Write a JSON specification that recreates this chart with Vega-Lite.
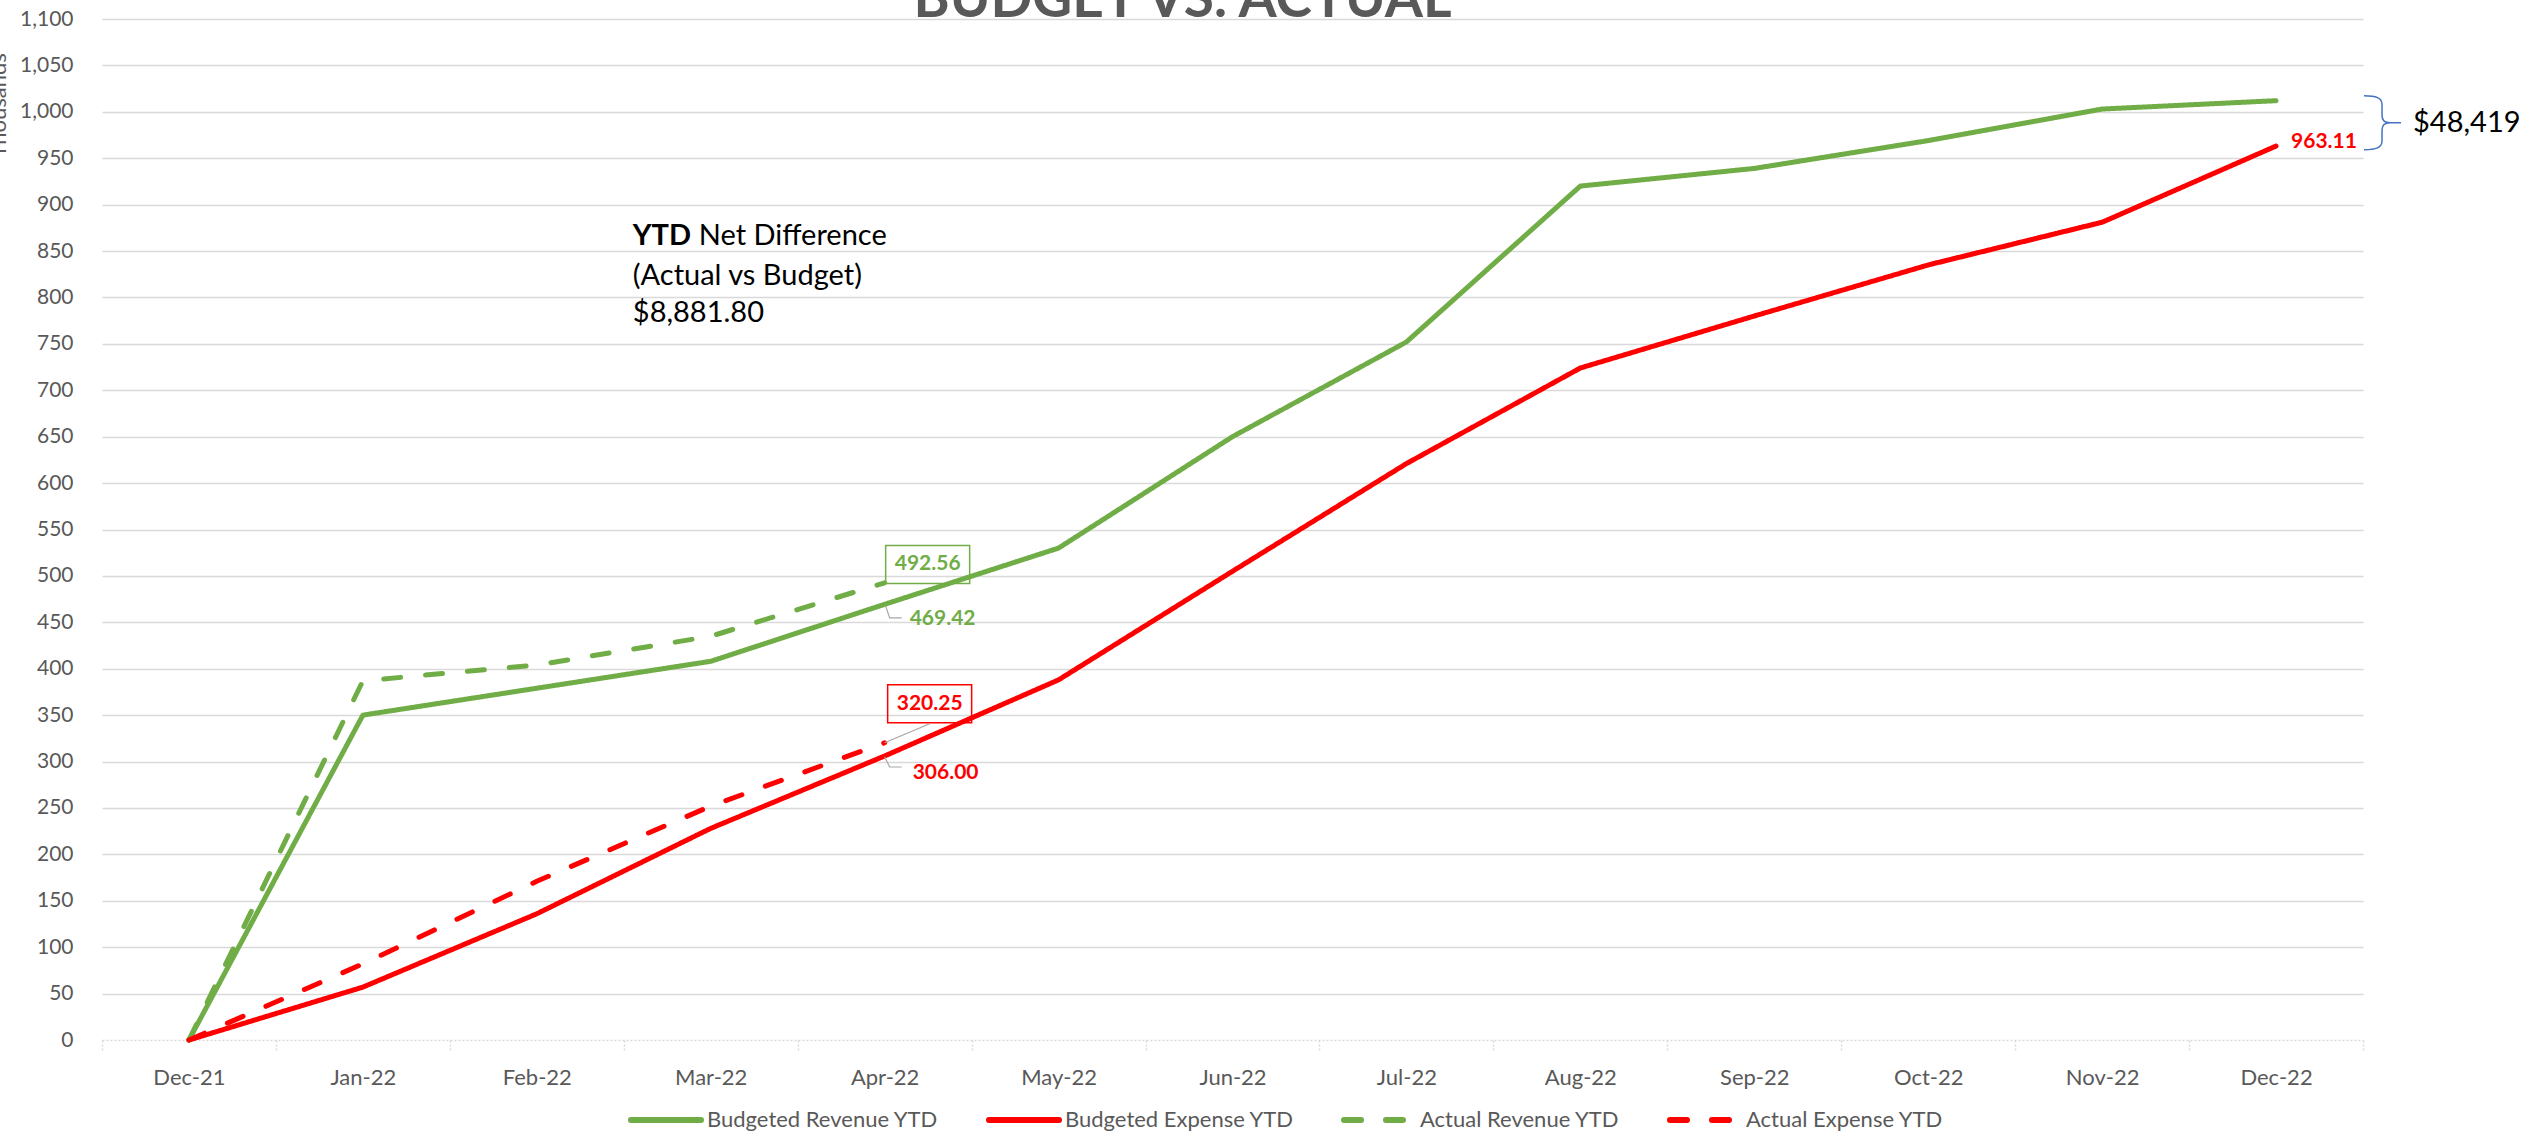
{
  "$schema": "https://vega.github.io/schema/vega-lite/v6.json",
  "width": 2261,
  "height": 1021,
  "autosize": {"type": "none"},
  "padding": {"left": 102, "top": 19, "right": 171, "bottom": 99},
  "background": "white",
  "config": {"view": {"stroke": null}, "font": "Lato"},
  "title": {"text": "BUDGET VS. ACTUAL", "fontSize": 55, "fontWeight": "bold", "color": "#595959", "font": "Lato", "anchor": "middle", "dx": -50, "offset": -64, "baseline": "alphabetic"},
  "datasets": {
    "lines": [
      {"month": "Dec-21", "series": "Budgeted Revenue YTD", "value": 0},
      {"month": "Jan-22", "series": "Budgeted Revenue YTD", "value": 350},
      {"month": "Feb-22", "series": "Budgeted Revenue YTD", "value": 379},
      {"month": "Mar-22", "series": "Budgeted Revenue YTD", "value": 408},
      {"month": "Apr-22", "series": "Budgeted Revenue YTD", "value": 469.42},
      {"month": "May-22", "series": "Budgeted Revenue YTD", "value": 530},
      {"month": "Jun-22", "series": "Budgeted Revenue YTD", "value": 650},
      {"month": "Jul-22", "series": "Budgeted Revenue YTD", "value": 752},
      {"month": "Aug-22", "series": "Budgeted Revenue YTD", "value": 920},
      {"month": "Sep-22", "series": "Budgeted Revenue YTD", "value": 939},
      {"month": "Oct-22", "series": "Budgeted Revenue YTD", "value": 969},
      {"month": "Nov-22", "series": "Budgeted Revenue YTD", "value": 1003},
      {"month": "Dec-22", "series": "Budgeted Revenue YTD", "value": 1012},
      {"month": "Dec-21", "series": "Budgeted Expense YTD", "value": 0},
      {"month": "Jan-22", "series": "Budgeted Expense YTD", "value": 57},
      {"month": "Feb-22", "series": "Budgeted Expense YTD", "value": 136},
      {"month": "Mar-22", "series": "Budgeted Expense YTD", "value": 228},
      {"month": "Apr-22", "series": "Budgeted Expense YTD", "value": 306.0},
      {"month": "May-22", "series": "Budgeted Expense YTD", "value": 388},
      {"month": "Jun-22", "series": "Budgeted Expense YTD", "value": 505},
      {"month": "Jul-22", "series": "Budgeted Expense YTD", "value": 621},
      {"month": "Aug-22", "series": "Budgeted Expense YTD", "value": 724},
      {"month": "Sep-22", "series": "Budgeted Expense YTD", "value": 780},
      {"month": "Oct-22", "series": "Budgeted Expense YTD", "value": 835},
      {"month": "Nov-22", "series": "Budgeted Expense YTD", "value": 881},
      {"month": "Dec-22", "series": "Budgeted Expense YTD", "value": 963.11},
      {"month": "Dec-21", "series": "Actual Revenue YTD", "value": 0},
      {"month": "Jan-22", "series": "Actual Revenue YTD", "value": 387},
      {"month": "Feb-22", "series": "Actual Revenue YTD", "value": 404},
      {"month": "Mar-22", "series": "Actual Revenue YTD", "value": 435},
      {"month": "Apr-22", "series": "Actual Revenue YTD", "value": 492.56},
      {"month": "Dec-21", "series": "Actual Expense YTD", "value": 0},
      {"month": "Jan-22", "series": "Actual Expense YTD", "value": 82},
      {"month": "Feb-22", "series": "Actual Expense YTD", "value": 171},
      {"month": "Mar-22", "series": "Actual Expense YTD", "value": 252},
      {"month": "Apr-22", "series": "Actual Expense YTD", "value": 320.25}
    ]
  },
  "layer": [
    {
      "data": {"name": "lines"},
      "mark": {"type": "line", "strokeWidth": 5, "strokeCap": "round", "strokeJoin": "round"},
      "encoding": {
        "x": {
          "field": "month", "type": "nominal", "bandPosition": 0.5,
          "scale": {"type": "band", "paddingInner": 0, "paddingOuter": 0, "domain": ["Dec-21","Jan-22","Feb-22","Mar-22","Apr-22","May-22","Jun-22","Jul-22","Aug-22","Sep-22","Oct-22","Nov-22","Dec-22"]},
          "sort": null,
          "axis": {"title": null, "labelAngle": 0, "labelFontSize": 22, "labelFont": "Lato", "labelColor": "#595959", "labelPadding": 17, "tickBand": "extent", "ticks": true, "tickSize": 10, "tickColor": "#d9d9d9", "tickDash": [2, 2], "tickWidth": 1.5, "domainColor": "#d9d9d9", "domainDash": [2, 2], "domainWidth": 1.5, "grid": false}
        },
        "y": {
          "field": "value", "type": "quantitative",
          "scale": {"domain": [0, 1100], "nice": false},
          "axis": {"values": [0,50,100,150,200,250,300,350,400,450,500,550,600,650,700,750,800,850,900,950,1000,1050,1100], "format": ",d", "labelFontSize": 21, "labelFont": "Lato", "labelColor": "#595959", "labelPadding": 29, "ticks": false, "domain": false, "grid": true, "gridColor": "#d9d9d9", "gridWidth": 1.5, "gridOpacity": {"condition": {"test": "datum.value === 0", "value": 0}, "value": 1}, "title": "Thousands", "titleFontSize": 22, "titleFont": "Lato", "titleFontWeight": "normal", "titleColor": "#595959", "titleAngle": 270, "titleX": -97, "titleY": 138, "titleAlign": "left", "titleBaseline": "alphabetic"}
        },
        "color": {
          "field": "series", "type": "nominal",
          "scale": {"domain": ["Budgeted Revenue YTD", "Budgeted Expense YTD", "Actual Revenue YTD", "Actual Expense YTD"], "range": ["#70AD47", "#FF0000", "#70AD47", "#FF0000"]},
          "legend": {"orient": "none", "legendX": 526, "legendY": 1063, "direction": "horizontal", "columns": 4, "title": null, "symbolType": "stroke", "symbolSize": 4900, "symbolStrokeWidth": 6, "labelFontSize": 22, "labelFont": "Lato", "labelColor": "#595959", "labelLimit": 600, "columnPadding": 38, "labelOffset": 3, "padding": 0, "encode": {"symbols": {"update": {"strokeCap": {"value": "round"}}}}}
        },
        "strokeDash": {
          "field": "series", "type": "nominal",
          "scale": {"domain": ["Budgeted Revenue YTD", "Budgeted Expense YTD", "Actual Revenue YTD", "Actual Expense YTD"], "range": [[1, 0], [1, 0], [17, 25], [17, 25]]},
          "legend": {"orient": "none", "legendX": 526, "legendY": 1063, "direction": "horizontal", "columns": 4, "title": null, "symbolType": "stroke", "symbolSize": 4900, "symbolStrokeWidth": 6, "labelFontSize": 22, "labelFont": "Lato", "labelColor": "#595959", "labelLimit": 600, "columnPadding": 38, "labelOffset": 3, "padding": 0, "encode": {"symbols": {"update": {"strokeCap": {"value": "round"}}}}}
        }
      }
    },
    {
      "data": {"values": [{"month": "Apr-22", "value": 492.56, "label": "492.56"}]},
      "mark": {"type": "point", "shape": "M-1,-0.452H1V0.452H-1Z", "size": 7056, "filled": false, "stroke": "#70AD47", "strokeWidth": 1.5, "opacity": 1, "xOffset": 43, "yOffset": -18.4},
      "encoding": {"x": {"field": "month", "type": "nominal", "bandPosition": 0.5}, "y": {"field": "value", "type": "quantitative"}}
    },
    {
      "data": {"values": [{"month": "Apr-22", "value": 492.56, "label": "492.56"}]},
      "mark": {"type": "text", "dx": 43, "dy": -18.4, "align": "center", "baseline": "middle", "fontSize": 21, "fontWeight": "bold", "color": "#70AD47"},
      "encoding": {"x": {"field": "month", "type": "nominal", "bandPosition": 0.5}, "y": {"field": "value", "type": "quantitative"}, "text": {"field": "label"}}
    },
    {
      "data": {"values": [{"month": "Apr-22", "value": 469.42, "label": "469.42"}]},
      "mark": {"type": "text", "dx": 25, "dy": 14.6, "align": "left", "baseline": "middle", "fontSize": 21, "fontWeight": "bold", "color": "#70AD47"},
      "encoding": {"x": {"field": "month", "type": "nominal", "bandPosition": 0.5}, "y": {"field": "value", "type": "quantitative"}, "text": {"field": "label"}}
    },
    {
      "data": {"values": [{"month": "Apr-22", "value": 469.42}]},
      "mark": {"type": "point", "shape": "M0.05,0.08L0.25,0.68L0.85,0.68", "size": 1600, "filled": false, "stroke": "#A6A6A6", "strokeWidth": 1.2, "opacity": 1},
      "encoding": {"x": {"field": "month", "type": "nominal", "bandPosition": 0.5}, "y": {"field": "value", "type": "quantitative"}}
    },
    {
      "data": {"values": [{"month": "Apr-22", "value": 320.25}]},
      "mark": {"type": "point", "shape": "M-1,-0.452H1V0.452H-1Z", "size": 7056, "filled": false, "stroke": "#FF0000", "strokeWidth": 1.5, "opacity": 1, "xOffset": 45, "yOffset": -39},
      "encoding": {"x": {"field": "month", "type": "nominal", "bandPosition": 0.5}, "y": {"field": "value", "type": "quantitative"}}
    },
    {
      "data": {"values": [{"month": "Apr-22", "value": 320.25}]},
      "mark": {"type": "point", "shape": "M0,0L0.9,-0.38", "size": 10000, "filled": false, "stroke": "#A6A6A6", "strokeWidth": 1.2, "opacity": 1},
      "encoding": {"x": {"field": "month", "type": "nominal", "bandPosition": 0.5}, "y": {"field": "value", "type": "quantitative"}}
    },
    {
      "data": {"values": [{"month": "Apr-22", "value": 320.25, "label": "320.25"}]},
      "mark": {"type": "text", "dx": 45, "dy": -39, "align": "center", "baseline": "middle", "fontSize": 21, "fontWeight": "bold", "color": "#FF0000"},
      "encoding": {"x": {"field": "month", "type": "nominal", "bandPosition": 0.5}, "y": {"field": "value", "type": "quantitative"}, "text": {"field": "label"}}
    },
    {
      "data": {"values": [{"month": "Apr-22", "value": 306.0, "label": "306.00"}]},
      "mark": {"type": "text", "dx": 28, "dy": 17, "align": "left", "baseline": "middle", "fontSize": 21, "fontWeight": "bold", "color": "#FF0000"},
      "encoding": {"x": {"field": "month", "type": "nominal", "bandPosition": 0.5}, "y": {"field": "value", "type": "quantitative"}, "text": {"field": "label"}}
    },
    {
      "data": {"values": [{"month": "Apr-22", "value": 306.0}]},
      "mark": {"type": "point", "shape": "M0,0.04L0.25,0.55L0.85,0.55", "size": 1600, "filled": false, "stroke": "#A6A6A6", "strokeWidth": 1.2, "opacity": 1},
      "encoding": {"x": {"field": "month", "type": "nominal", "bandPosition": 0.5}, "y": {"field": "value", "type": "quantitative"}}
    },
    {
      "data": {"values": [{"month": "Dec-22", "value": 963.11, "label": "963.11"}]},
      "mark": {"type": "text", "dx": 15, "dy": -4, "align": "left", "baseline": "middle", "fontSize": 21, "fontWeight": "bold", "color": "#FF0000"},
      "encoding": {"x": {"field": "month", "type": "nominal", "bandPosition": 0.5}, "y": {"field": "value", "type": "quantitative"}, "text": {"field": "label"}}
    },
    {
      "data": {"values": [{"month": "Dec-22", "value": 988.2}]},
      "mark": {"type": "point", "shape": "M-0.6,-0.9C-0.2,-0.9 0,-0.833 0,-0.6L0,-0.233C0,-0.067 0.1,0 0.267,0L0.633,0M0.267,0C0.1,0 0,0.067 0,0.233L0,0.6C0,0.833 -0.2,0.9 -0.6,0.9", "size": 3600, "filled": false, "stroke": "#4472C4", "strokeWidth": 1.5, "opacity": 1, "xOffset": 106},
      "encoding": {"x": {"field": "month", "type": "nominal", "bandPosition": 0.5}, "y": {"field": "value", "type": "quantitative"}}
    },
    {
      "data": {"values": [{"month": "Dec-22", "value": 988.2, "label": "$48,419"}]},
      "mark": {"type": "text", "dx": 137, "align": "left", "baseline": "middle", "fontSize": 29, "color": "#000000"},
      "encoding": {"x": {"field": "month", "type": "nominal", "bandPosition": 0.5}, "y": {"field": "value", "type": "quantitative"}, "text": {"field": "label"}}
    },
    {
      "data": {"values": [{"month": "Feb-22", "value": 866.4, "label": "YTD"}]},
      "mark": {"type": "text", "dx": 96, "align": "left", "baseline": "middle", "fontSize": 29, "fontWeight": "bold", "color": "#000000"},
      "encoding": {"x": {"field": "month", "type": "nominal", "bandPosition": 0.5}, "y": {"field": "value", "type": "quantitative"}, "text": {"field": "label"}}
    },
    {
      "data": {"values": [{"month": "Feb-22", "value": 866.4, "label": "Net Difference"}]},
      "mark": {"type": "text", "dx": 162, "align": "left", "baseline": "middle", "fontSize": 29, "color": "#000000"},
      "encoding": {"x": {"field": "month", "type": "nominal", "bandPosition": 0.5}, "y": {"field": "value", "type": "quantitative"}, "text": {"field": "label"}}
    },
    {
      "data": {"values": [{"month": "Feb-22", "value": 823.3, "label": "(Actual vs Budget)"}, {"month": "Feb-22", "value": 783.4, "label": "$8,881.80"}]},
      "mark": {"type": "text", "dx": 96, "align": "left", "baseline": "middle", "fontSize": 29, "color": "#000000"},
      "encoding": {"x": {"field": "month", "type": "nominal", "bandPosition": 0.5}, "y": {"field": "value", "type": "quantitative"}, "text": {"field": "label"}}
    }
  ]
}
